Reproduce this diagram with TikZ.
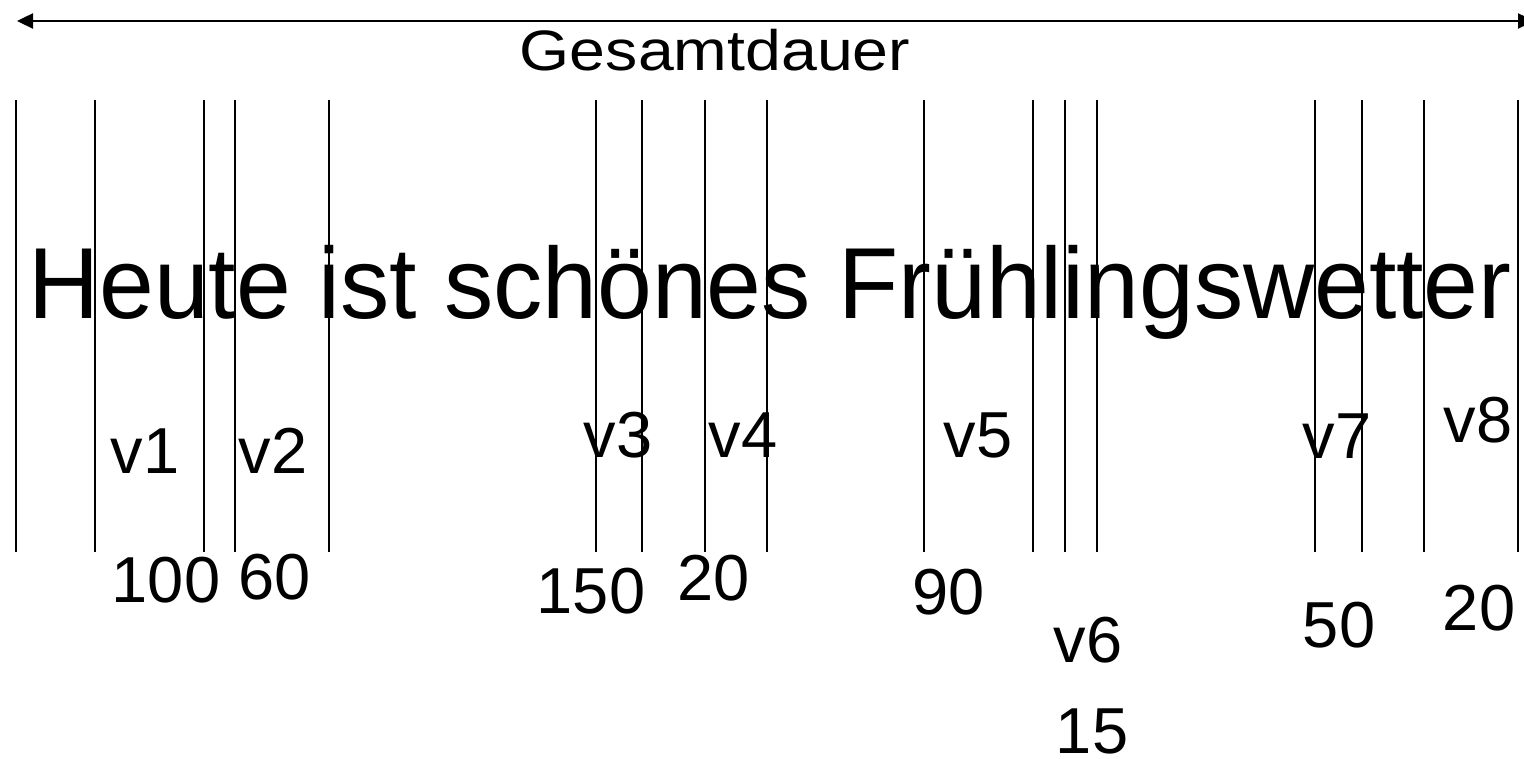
\documentclass[tikz,border=0pt]{standalone}
\usepackage{fontspec}
\setmainfont{Liberation Sans}
\usetikzlibrary{arrows.meta}
\begin{document}
\begin{tikzpicture}[x=1pt,y=-1pt,
  tick/.style={line width=1.5pt,black},
  lbl/.style={anchor=base,inner sep=0pt,font=\fontsize{65}{78}\selectfont},
  big/.style={anchor=base,inner sep=0pt,font=\fontsize{101}{120}\selectfont,xscale=0.975},
  title/.style={anchor=base,inner sep=0pt,font=\fontsize{57}{68}\selectfont,xscale=1.13},
  dur/.style={line width=2.4pt,{Triangle[length=16pt,width=15pt]}-{Triangle[length=16pt,width=15pt]}}]
\useasboundingbox (0,0) rectangle (1524,759);
% total duration arrow
\coordinate (aL) at (17,21);
\coordinate (aR) at (1534,21);
\draw[dur] (aL) -- (aR);
\node[title] (ges) at (715,71) {Gesamtdauer};
% tick lines
\foreach \x/\n in {16/t1,95/t2,204/t3,235/t4,329/t5,596/t6,642/t7,705/t8,767/t9,924/t10,1033/t11,1065/t12,1097/t13,1315/t14,1362/t15,1424/t16,1518/t17}{
  \coordinate (\n a) at (\x,100);
  \coordinate (\n b) at (\x,552);
  \draw[tick] (\n a) -- (\n b);
}
% sentence
\node[big] (sent) at (770,319) {Heute ist schönes Frühlingswetter};
% labels
\node[lbl] (v1) at (145,473) {v1};
\node[lbl] (v2) at (273,473) {v2};
\node[lbl] (d1) at (166,602) {100};
\node[lbl] (d2) at (275,599) {60};
\node[lbl] (v3) at (618,457) {v3};
\node[lbl] (v4) at (743,457) {v4};
\node[lbl] (d3) at (591,613) {150};
\node[lbl] (d4) at (714,600) {20};
\node[lbl] (v5) at (978,457) {v5};
\node[lbl] (d5) at (949,614) {90};
\node[lbl] (v6) at (1088,662) {v6};
\node[lbl] (d6) at (1092,753) {15};
\node[lbl] (v7) at (1337,458) {v7};
\node[lbl] (d7) at (1339,647) {50};
\node[lbl] (v8) at (1478,442) {v8};
\node[lbl] (d8) at (1479,630) {20};
\end{tikzpicture}
\end{document}
